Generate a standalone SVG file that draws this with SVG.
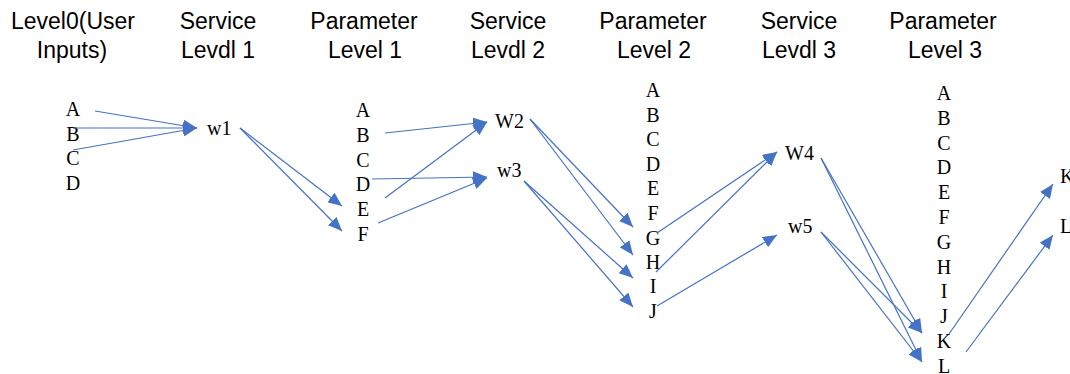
<svg xmlns="http://www.w3.org/2000/svg" width="1070" height="374" viewBox="0 0 1070 374">
<style>
.h{font-family:"Liberation Sans",Arial,sans-serif;font-size:23px;fill:#000;text-anchor:middle}
.t{font-family:"Liberation Serif","Times New Roman",serif;font-size:20px;fill:#000}
.c{text-anchor:middle}
.e{fill:none;stroke:#4472C4;stroke-width:1.2;marker-end:url(#ah)}
</style>
<defs>
<marker id="ah" markerUnits="userSpaceOnUse" markerWidth="15" markerHeight="12" refX="14" refY="6" orient="auto">
<path d="M0,0 L14,6 L0,12 z" fill="#4472C4"/>
</marker>
</defs>
<rect width="1070" height="374" fill="#fff"/>
<g id="headers">
<text class="h" x="73" y="29">Level0(User</text><text class="h" x="72" y="58">Inputs)</text>
<text class="h" x="218" y="29">Service</text><text class="h" x="218" y="58">Levdl 1</text>
<text class="h" x="364" y="29">Parameter</text><text class="h" x="365" y="58">Level 1</text>
<text class="h" x="508" y="29">Service</text><text class="h" x="508" y="58">Levdl 2</text>
<text class="h" x="653" y="29">Parameter</text><text class="h" x="654" y="58">Level 2</text>
<text class="h" x="799" y="29">Service</text><text class="h" x="799" y="58">Levdl 3</text>
<text class="h" x="943" y="29">Parameter</text><text class="h" x="945" y="58">Level 3</text>
</g>
<g id="L0">
<g id="L0-A"><text class="t c" x="73" y="116">A</text></g>
<g id="L0-B"><text class="t c" x="73" y="140.7">B</text></g>
<g id="L0-C"><text class="t c" x="73" y="165.4">C</text></g>
<g id="L0-D"><text class="t c" x="73" y="190">D</text></g>
</g>
<g id="w1"><text class="t" x="207" y="135">w1</text></g>
<g id="P1">
<g id="P1-A"><text class="t c" x="363" y="117">A</text></g>
<g id="P1-B"><text class="t c" x="363" y="141.8">B</text></g>
<g id="P1-C"><text class="t c" x="363" y="166.6">C</text></g>
<g id="P1-D"><text class="t c" x="363" y="191.4">D</text></g>
<g id="P1-E"><text class="t c" x="363" y="216.2">E</text></g>
<g id="P1-F"><text class="t c" x="363" y="241">F</text></g>
</g>
<g id="W2"><text class="t" x="495" y="128">W2</text></g>
<g id="w3"><text class="t" x="497" y="177">w3</text></g>
<g id="P2">
<g id="P2-A"><text class="t c" x="653" y="97">A</text></g>
<g id="P2-B"><text class="t c" x="653" y="121.5">B</text></g>
<g id="P2-C"><text class="t c" x="653" y="146">C</text></g>
<g id="P2-D"><text class="t c" x="653" y="170.5">D</text></g>
<g id="P2-E"><text class="t c" x="653" y="195">E</text></g>
<g id="P2-F"><text class="t c" x="653" y="220">F</text></g>
<g id="P2-G"><text class="t c" x="653" y="245">G</text></g>
<g id="P2-H"><text class="t c" x="653" y="269">H</text></g>
<g id="P2-I"><text class="t c" x="653" y="293">I</text></g>
<g id="P2-J"><text class="t c" x="653" y="318">J</text></g>
</g>
<g id="W4"><text class="t" x="785" y="160">W4</text></g>
<g id="w5"><text class="t" x="788" y="233">w5</text></g>
<g id="P3">
<g id="P3-A"><text class="t c" x="944" y="100">A</text></g>
<g id="P3-B"><text class="t c" x="944" y="124.8">B</text></g>
<g id="P3-C"><text class="t c" x="944" y="149.6">C</text></g>
<g id="P3-D"><text class="t c" x="944" y="174.4">D</text></g>
<g id="P3-E"><text class="t c" x="944" y="199.2">E</text></g>
<g id="P3-F"><text class="t c" x="944" y="224">F</text></g>
<g id="P3-G"><text class="t c" x="944" y="248.8">G</text></g>
<g id="P3-H"><text class="t c" x="944" y="273.6">H</text></g>
<g id="P3-I"><text class="t c" x="944" y="298.4">I</text></g>
<g id="P3-J"><text class="t c" x="944" y="323.2">J</text></g>
<g id="P3-K"><text class="t c" x="944" y="348">K</text></g>
<g id="P3-L"><text class="t c" x="944" y="372.8">L</text></g>
</g>
<g id="outK"><text class="t" x="1060" y="183">K</text></g>
<g id="outL"><text class="t" x="1060" y="233">L</text></g>
<g id="connectors">
<line class="e" x1="95" y1="111" x2="197" y2="128"/>
<line class="e" x1="73" y1="128" x2="197" y2="128"/>
<line class="e" x1="73" y1="150" x2="197" y2="128"/>
<line class="e" x1="240" y1="128" x2="342" y2="206"/>
<line class="e" x1="240" y1="128" x2="342" y2="231"/>
<line class="e" x1="385" y1="133" x2="487" y2="122"/>
<line class="e" x1="385" y1="198" x2="487" y2="122"/>
<line class="e" x1="372" y1="179" x2="487" y2="177"/>
<line class="e" x1="378" y1="223" x2="487" y2="178"/>
<line class="e" x1="530" y1="119" x2="633" y2="227"/>
<line class="e" x1="530" y1="119" x2="633" y2="255"/>
<line class="e" x1="524" y1="181" x2="633" y2="278"/>
<line class="e" x1="524" y1="181" x2="633" y2="307"/>
<line class="e" x1="657" y1="233" x2="777" y2="152"/>
<line class="e" x1="656" y1="272" x2="777" y2="152"/>
<line class="e" x1="657" y1="306" x2="777" y2="235"/>
<line class="e" x1="821" y1="158" x2="922" y2="333"/>
<line class="e" x1="821" y1="158" x2="922" y2="362"/>
<line class="e" x1="821" y1="232" x2="922" y2="333"/>
<line class="e" x1="821" y1="232" x2="922" y2="362"/>
<line class="e" x1="949" y1="334" x2="1053" y2="184"/>
<line class="e" x1="966" y1="352" x2="1053" y2="235"/>
</g>
</svg>
